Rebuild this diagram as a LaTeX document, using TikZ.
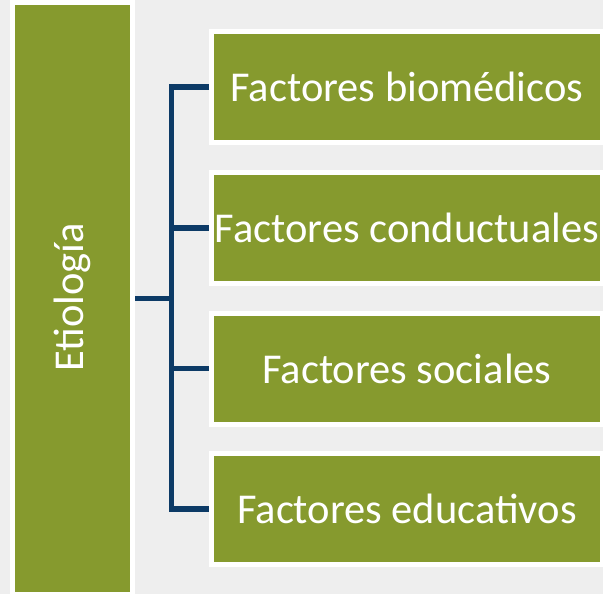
\documentclass[tikz,border=0pt]{standalone}
\usepackage{fontspec}
\setmainfont{Carlito}
\definecolor{bg}{RGB}{238,238,238}
\definecolor{leaf}{RGB}{134,154,46}
\definecolor{navy}{RGB}{12,58,102}
\begin{document}
\begin{tikzpicture}[x=1pt,y=-1pt,
  box/.style={fill=leaf, draw=white, line width=5pt, text=white,
    font=\fontsize{42.5}{50}\selectfont, inner sep=0pt},
  rbox/.style={box, minimum width=391pt, minimum height=111pt},
  conn/.style={draw=navy, line width=5.5pt, line join=miter}]
\fill[bg] (0,0) rectangle (603,594);
\useasboundingbox (0,0) rectangle (603,594);
\node[box, minimum width=120pt, minimum height=592pt] (L) at (72.5,298.5) {};
\node[box, rotate=90, fill=none, draw=none] (Lt) at (72.5,297.5) {Etiología};
\node[rbox] (b1) at (407,87) {Factores biomédicos};
\node[rbox] (b2) at (407,228) {Factores conductuales};
\node[rbox] (b3) at (407,368.5) {Factores sociales};
\node[rbox] (b4) at (407,509) {Factores educativos};
\coordinate (j) at (171.5,298.5);
\draw[conn] (b1.west) -| (j) |- (b4.west);
\draw[conn] (b2.west) -- (b2.west -| j);
\draw[conn] (b3.west) -- (b3.west -| j);
\draw[conn] (L.east) -- (j);
\end{tikzpicture}
\end{document}
